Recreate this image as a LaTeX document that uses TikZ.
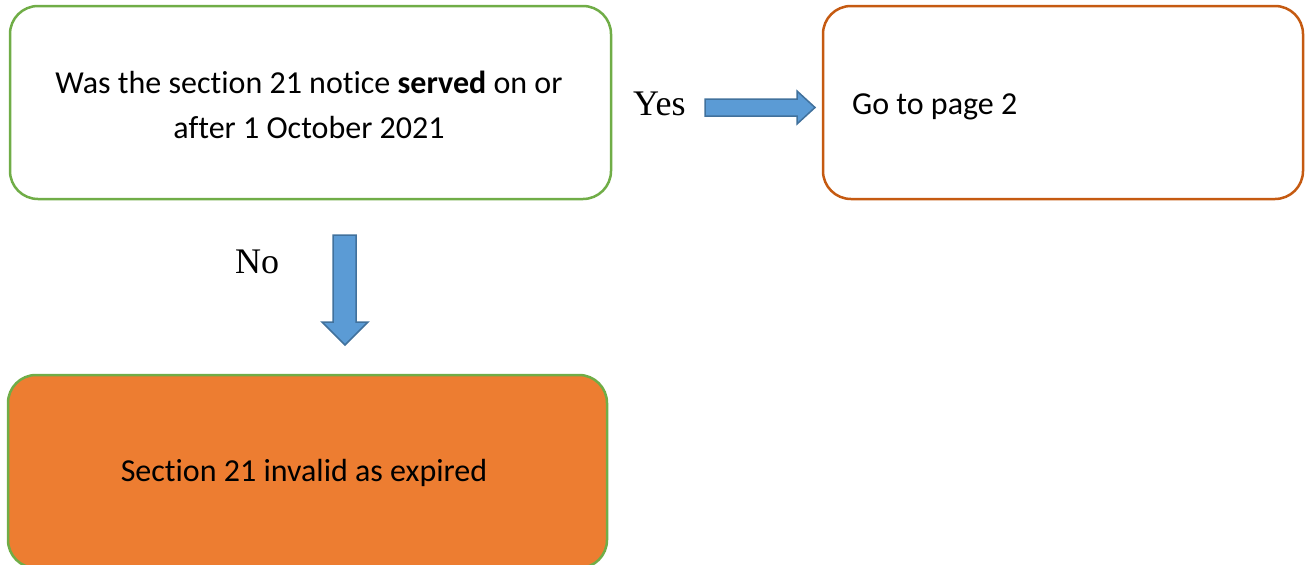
\documentclass[tikz,border=0pt]{standalone}
\usepackage{fontspec}
\setmainfont{Carlito}[Ligatures=NoCommon]
\newfontfamily\lblfont{Liberation Serif}
\definecolor{boxgreen}{RGB}{112,173,71}
\definecolor{boxbrown}{RGB}{197,90,17}
\definecolor{boxorange}{RGB}{237,125,49}
\definecolor{arrfill}{RGB}{91,155,213}
\definecolor{arrline}{RGB}{65,113,156}
\tikzset{
  box/.style={draw, line width=2.5pt, rounded corners=28pt, inner sep=0pt},
  txt/.style={font=\fontsize{32}{45}\selectfont, inner sep=0pt},
  lbl/.style={font=\lblfont\fontsize{36}{40}\selectfont, anchor=base west, inner sep=0pt},
  blockarrow/.style={fill=arrfill, draw=arrline, line width=1.5pt, line join=miter}
}
\begin{document}
\begin{tikzpicture}[x=1pt,y=-1pt]
\useasboundingbox (0,0) rectangle (1307,565);
\node[box, draw=boxgreen, minimum width=601pt, minimum height=193pt] (q) at (310.5,102.5) {};
\node[box, draw=boxbrown, minimum width=480pt, minimum height=193pt] (p) at (1063,102.5) {};
\node[box, draw=boxgreen, fill=boxorange, minimum width=599pt, minimum height=193pt] (s) at (307.5,471.5) {};
\node[txt, align=center, anchor=base] (qt) at (309,138) {Was the section 21 notice \textbf{served} on or\\after 1 October 2021};
\node[txt, anchor=base west] (pt) at (852,114) {Go to page 2};
\node[txt, anchor=base] (st) at (304,481) {Section 21 invalid as expired};
\node[lbl] (yes) at (633,115) {Yes};
\node[lbl] (no) at (235,273) {No};
% right block arrow
\draw[blockarrow] (705,99) -- (797,99) -- (797,91) -- (815,107.5) -- (797,124) -- (797,116) -- (705,116) -- cycle;
% down block arrow
\draw[blockarrow] (333,235) -- (356,235) -- (356,322) -- (368,322) -- (345,345) -- (322,322) -- (333,322) -- cycle;
\end{tikzpicture}
\end{document}
